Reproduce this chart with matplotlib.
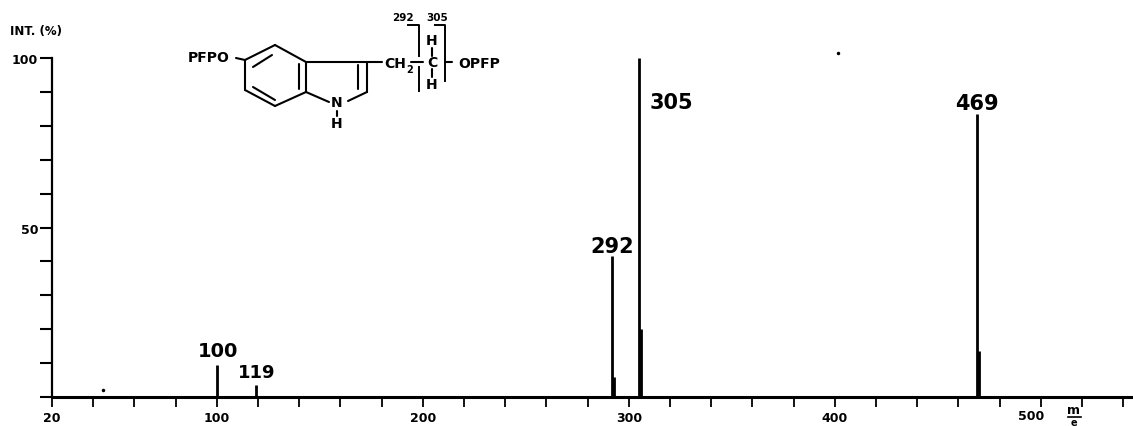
import matplotlib
matplotlib.use("Agg")
import matplotlib.pyplot as plt

# ---------------------
# Spectrum data
# ---------------------
mz = [100, 119, 292, 293, 305, 306, 469, 470]
intensity = [9.5, 3.5, 41.6, 6, 100, 20, 83.5, 13.5]

x_major = [20, 100, 200, 300, 400]
x_ticks = list(range(20, 541, 20))
y_ticks = list(range(0, 101, 10))
y_labels = {50: "50", 100: "100"}

W, H = 1133, 427
plt.rcParams["font.family"] = ["DejaVu Sans"]
plt.rcParams["font.weight"] = "bold"

fig = plt.figure(figsize=(W / 100, H / 100), dpi=100)
ax = fig.add_axes([52 / W, 1 - 398 / H, (W - 52) / W, (398 - 59) / H])
ax.set_xlim(20, 20 + (W - 52) / 2.06)
ax.set_ylim(0, 100)

ax.vlines(mz, 0, intensity, color="black", lw=2)

for s in ["top", "right"]:
    ax.spines[s].set_visible(False)
ax.spines["left"].set_linewidth(1.6)
ax.spines["bottom"].set_linewidth(2.2)

ax.set_xticks(x_ticks)
ax.set_xticklabels([str(t) if t in x_major else "" for t in x_ticks], fontsize=9)
ax.set_yticks(y_ticks)
ax.set_yticklabels([y_labels.get(t, "") for t in y_ticks], fontsize=9)
ax.tick_params(axis="x", length=7, width=1.3, pad=3)
ax.tick_params(axis="y", length=9, width=1.5, pad=1)

# peak labels
ax.text(100.5, 13.6, "100", fontsize=14, ha="center", va="center")
ax.text(119.5, 7.4, "119", fontsize=13, ha="center", va="center")
ax.text(292, 44.5, "292", fontsize=15, ha="center", va="center")
ax.text(310, 87, "305", fontsize=15, ha="left", va="center")
ax.text(469, 86.7, "469", fontsize=15, ha="center", va="center")

# ---------------------
# Overlay in pixels for the structure drawing
# ---------------------
ov = fig.add_axes([0, 0, 1, 1], facecolor="none")
ov.set_xlim(0, W)
ov.set_ylim(H, 0)
ov.axis("off")

bonds = [
    ((275, 46), (306, 63)), ((306, 63), (306, 93)), ((306, 93), (275, 107)),
    ((275, 107), (245, 91)), ((245, 91), (245, 61)), ((245, 61), (275, 46)),
    ((299, 65), (299, 90)), ((253, 68), (272, 56)), ((253, 88), (275, 101)),
    ((306, 63), (367, 63)), ((367, 63), (367, 93)), ((358, 66), (358, 90)),
    ((367, 93), (348, 102)), ((306, 93), (329, 103)), ((236, 59), (245, 61)),
    ((367, 63), (382, 63)), ((411, 63), (423, 63)), ((445, 63), (452, 63)),
    ((432, 49), (432, 57)), ((432, 70), (432, 78)), ((337, 112), (337, 117)),
]
for a, b in bonds:
    ov.plot([a[0], b[0]], [a[1], b[1]], color="black", lw=1.5, solid_capstyle="round")

brackets = [
    [(408, 26), (419, 26), (419, 57)],
    [(419, 68), (419, 92)],
    [(435, 26), (445, 26), (445, 82)],
]
for b in brackets:
    ov.plot([p[0] for p in b], [p[1] for p in b], color="black", lw=1.4)

ov.text(209, 58, "PFPO", fontsize=10, ha="center", va="center")
ov.text(395, 64, "CH", fontsize=10, ha="center", va="center")
ov.text(410, 70, "2", fontsize=7, ha="center", va="center")
ov.text(432, 63, "C", fontsize=10, ha="center", va="center")
ov.text(432, 41, "H", fontsize=10, ha="center", va="center")
ov.text(432, 85, "H", fontsize=10, ha="center", va="center")
ov.text(479, 64, "OPFP", fontsize=10, ha="center", va="center")
ov.text(337, 103, "N", fontsize=10, ha="center", va="center")
ov.text(337, 124, "H", fontsize=10, ha="center", va="center")
ov.text(403, 18, "292", fontsize=7.5, ha="center", va="center")
ov.text(437, 18, "305", fontsize=7.5, ha="center", va="center")

ov.text(10, 32, "INT. (%)", fontsize=8.5, ha="left", va="center")

# 500 label sits left of its tick in the original
ov.text(1031, 417, "500", fontsize=9, ha="center", va="center")

# m/e in the axis corner
ov.text(1074, 411, "m", fontsize=9, ha="center", va="center")
ov.plot([1068, 1081], [418, 418], color="black", lw=1.2)
ov.text(1074, 423, "e", fontsize=7, ha="center", va="center")

# specks from the scan
ov.plot([103, 838], [391, 54], "o", color="black", ms=1.5)

fig.savefig("out.png", dpi=100)
